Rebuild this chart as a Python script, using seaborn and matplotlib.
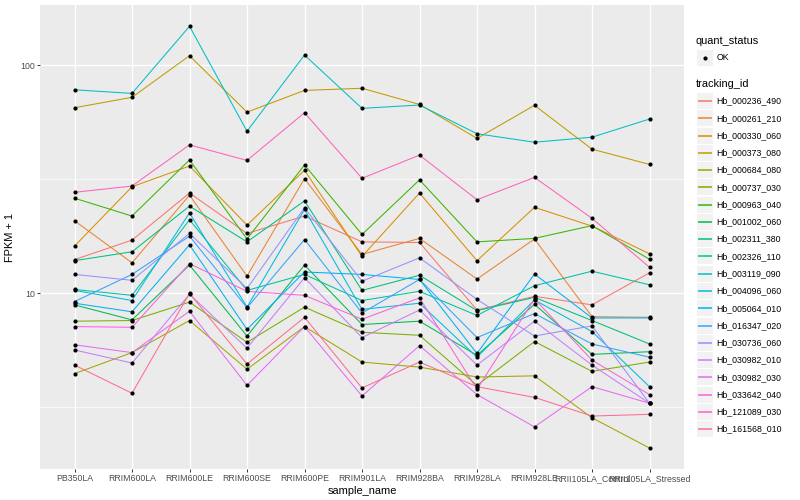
import numpy as np
import pandas as pd
import matplotlib
matplotlib.use('Agg')
import matplotlib.pyplot as plt
import matplotlib.ticker as mticker
from matplotlib.patches import Rectangle
import seaborn as sb

samples = ['PB350LA', 'RRIM600LA', 'RRIM600LE', 'RRIM600SE', 'RRIM600PE', 'RRIM901LA',
           'RRIM928BA', 'RRIM928LA', 'RRIM928LE', 'RRII105LA_Control', 'RRII105LA_Stressed']

tracking_ids = ['Hb_000236_490', 'Hb_000261_210', 'Hb_000330_060', 'Hb_000373_080',
                'Hb_000684_080', 'Hb_000737_030', 'Hb_000963_040', 'Hb_001002_060',
                'Hb_002311_380', 'Hb_002326_110', 'Hb_003119_090', 'Hb_004096_060',
                'Hb_005064_010', 'Hb_016347_020', 'Hb_030736_060', 'Hb_030982_010',
                'Hb_030982_030', 'Hb_033642_040', 'Hb_121089_030', 'Hb_161568_010']

# FPKM + 1, one list per gene, in sample order
hb_000236_490 = [14.05, 17.1, 27.5, 18.3, 21.8, 16.8, 16.7, 8.45, 9.7, 8.9, 12.3]
hb_000261_210 = [20.8, 13.6, 26.9, 11.9, 31.8, 14.8, 17.4, 11.55, 17.3, 7.9, 7.85]
hb_000330_060 = [16.1, 29.3, 36.1, 19.9, 34.6, 14.5, 27.5, 13.9, 23.8, 19.7, 14.9]
hb_000373_080 = [65.0, 72.2, 109.8, 62.2, 77.4, 79.1, 67.2, 47.7, 66.6, 42.8, 36.7]
hb_000684_080 = [4.45, 5.5, 7.6, 4.65, 7.15, 5.0, 4.75, 4.3, 4.35, 2.85, 2.1]
hb_000737_030 = [7.55, 7.6, 9.15, 6.1, 8.7, 6.75, 6.55, 3.95, 6.15, 4.55, 5.0]
hb_000963_040 = [26.1, 21.8, 38.4, 17.3, 36.5, 18.1, 31.4, 16.8, 17.4, 19.8, 14.1]
hb_001002_060 = [8.9, 7.65, 13.3, 6.5, 13.3, 7.3, 7.55, 5.35, 8.95, 5.4, 5.55]
hb_002311_380 = [13.9, 15.2, 24.1, 16.8, 25.4, 10.3, 12.0, 8.4, 9.6, 7.6, 6.0]
hb_002326_110 = [10.4, 9.8, 21.0, 10.3, 12.1, 9.3, 10.2, 8.0, 10.8, 12.5, 10.9]
hb_003119_090 = [77.9, 75.1, 147.8, 51.3, 110.6, 64.6, 66.8, 50.0, 45.9, 48.3, 58.0]
hb_004096_060 = [10.3, 9.3, 22.5, 8.7, 23.3, 8.5, 9.05, 5.25, 9.35, 6.8, 3.9]
hb_005064_010 = [9.05, 8.3, 16.3, 6.95, 12.4, 12.1, 11.5, 5.45, 12.15, 7.8, 7.8]
hb_016347_020 = [9.2, 12.1, 17.8, 8.65, 17.2, 8.2, 11.5, 6.4, 8.15, 6.0, 5.25]
hb_030736_060 = [12.1, 11.4, 18.3, 10.5, 23.7, 11.3, 14.3, 9.4, 6.5, 7.2, 3.3]
hb_030982_010 = [5.65, 4.95, 9.9, 5.75, 11.7, 6.4, 8.45, 4.85, 7.55, 4.85, 3.3]
hb_030982_030 = [5.95, 5.5, 8.35, 3.95, 7.15, 3.55, 5.9, 3.6, 2.6, 3.9, 3.3]
hb_033642_040 = [7.15, 7.1, 13.5, 10.2, 9.8, 7.7, 9.55, 3.8, 9.45, 5.1, 3.6]
hb_121089_030 = [27.7, 29.5, 44.7, 38.2, 61.8, 31.9, 40.3, 25.7, 32.2, 21.3, 13.0]
hb_161568_010 = [4.85, 3.65, 10.0, 4.9, 7.85, 3.85, 5.0, 3.9, 3.5, 2.9, 2.95]

series = [hb_000236_490, hb_000261_210, hb_000330_060, hb_000373_080, hb_000684_080,
          hb_000737_030, hb_000963_040, hb_001002_060, hb_002311_380, hb_002326_110,
          hb_003119_090, hb_004096_060, hb_005064_010, hb_016347_020, hb_030736_060,
          hb_030982_010, hb_030982_030, hb_033642_040, hb_121089_030, hb_161568_010]

# ggplot default hue palette for 20 levels
colors = ['#F8766D', '#EA8331', '#D89000', '#C09B00', '#A3A500', '#7CAE00', '#39B600',
          '#00BB4E', '#00BF7D', '#00C1A3', '#00BFC4', '#00BAE0', '#00B0F6', '#35A2FF',
          '#9590FF', '#C77CFF', '#E76BF3', '#FA62DB', '#FF62BC', '#FF6C91']
palette = dict(zip(tracking_ids, colors))

rows = []
for tid, vals in zip(tracking_ids, series):
    for s, v in zip(samples, vals):
        rows.append({'sample_name': s, 'tracking_id': tid, 'fpkm': v, 'quant_status': 'OK'})
df = pd.DataFrame(rows)

plt.rcParams['font.family'] = ['Liberation Sans', 'DejaVu Sans']

fig = plt.figure(figsize=(8, 5), dpi=100)
ax = fig.add_axes([40 / 800, 31 / 500, 644 / 800, 464 / 500])

sb.lineplot(data=df, x='sample_name', y='fpkm', hue='tracking_id', hue_order=tracking_ids,
            palette=palette, estimator=None, errorbar=None, sort=False, lw=0.75,
            legend=False, ax=ax, zorder=2)
sb.scatterplot(data=df, x='sample_name', y='fpkm', color='black', s=9, linewidth=0,
               legend=False, ax=ax, zorder=3)

ax.set_yscale('log')
ax.set_xlim(-0.6, 10.6)
ax.set_ylim(1.70, 183.2)
ax.yaxis.set_major_locator(mticker.FixedLocator([10, 100]))
ax.yaxis.set_major_formatter(mticker.FixedFormatter(['10', '100']))
ax.yaxis.set_minor_locator(mticker.FixedLocator([10 ** 0.5, 10 ** 1.5]))
ax.yaxis.set_minor_formatter(mticker.NullFormatter())

ax.set_facecolor('#EBEBEB')
for sp in ax.spines.values():
    sp.set_visible(False)
ax.set_axisbelow(True)
ax.grid(which='major', color='white', lw=1.0)
ax.grid(which='minor', axis='y', color='white', lw=0.5)
ax.tick_params(axis='both', which='major', length=2, width=0.7, color='#333333',
               labelsize=6.34, labelcolor='#4D4D4D', pad=1.6)
ax.tick_params(axis='y', which='minor', length=0)

ax.set_xlabel('sample_name', fontsize=7.92, labelpad=2)
ax.set_ylabel('FPKM + 1', fontsize=7.92, labelpad=4)

# legend drawn in figure pixel coordinates, ggplot style
lax = fig.add_axes([0, 0, 1, 1], zorder=5)
lax.set_xlim(0, 800)
lax.set_ylim(500, 0)
lax.axis('off')

lax.text(696, 41, 'quant_status', fontsize=7.92, va='center', ha='left')
lax.add_patch(Rectangle((697, 49.5), 16, 16, facecolor='#F2F2F2', edgecolor='none'))
lax.scatter([705], [57.5], s=9, color='black', linewidth=0)
lax.text(716.7, 57.5, 'OK', fontsize=6.34, va='center', ha='left')

lax.text(696, 84, 'tracking_id', fontsize=7.92, va='center', ha='left')
for i, tid in enumerate(tracking_ids):
    yc = 101 + i * 17.27
    lax.add_patch(Rectangle((697, yc - 8), 16, 16, facecolor='#F2F2F2', edgecolor='none'))
    lax.plot([698, 712], [yc, yc], color=palette[tid], lw=1.1, solid_capstyle='butt')
    lax.text(716.7, yc, tid, fontsize=6.34, va='center', ha='left')

plt.savefig('out.png', dpi=100, facecolor='white')
